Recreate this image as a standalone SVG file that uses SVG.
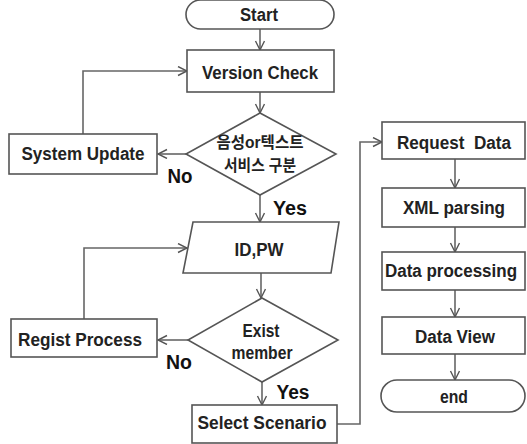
<svg xmlns="http://www.w3.org/2000/svg" width="527" height="444" viewBox="0 0 527 444">
<defs>
<marker id="arr" markerWidth="12" markerHeight="12" refX="10" refY="5" orient="auto" markerUnits="userSpaceOnUse">
<path d="M1,0.5 L10,5 L1,9.5" fill="none" stroke="#555" stroke-width="1.4"/>
</marker>
</defs>
<style>
.shape{fill:#fff;stroke:#555;stroke-width:1.6}
.conn{fill:none;stroke:#666;stroke-width:1.6;marker-end:url(#arr)}
text{font-family:"Liberation Sans","Noto Sans CJK KR",sans-serif;font-weight:bold;fill:#222;font-size:17.5px;text-anchor:middle;white-space:pre}
.ko{font-size:16px}
.lbl{font-size:20px;fill:#111}
</style>
<rect width="527" height="444" fill="#fff"/>
<g id="connectors">
<path class="conn" d="M260,29 L260,50"/>
<path class="conn" d="M260,92 L260,113"/>
<path class="conn" d="M186,154 L158,154"/>
<path class="conn" d="M83,134 L83,71 L187,71"/>
<path class="conn" d="M260,195 L260,222"/>
<path class="conn" d="M261,273 L261,298"/>
<path class="conn" d="M188,340 L158,340"/>
<path class="conn" d="M84,319 L84,248 L187,248"/>
<path class="conn" d="M262,382 L262,405"/>
<path class="conn" d="M337,424 L360,424 L360,142 L382,142"/>
<path class="conn" d="M455,159 L455,188"/>
<path class="conn" d="M455,227 L455,252"/>
<path class="conn" d="M455,290 L455,317"/>
<path class="conn" d="M455,354 L455,380"/>
</g>
<g id="start">
<rect class="shape" x="186" y="0" width="148" height="29" rx="14.5"/>
<text x="259" y="21" textLength="38" lengthAdjust="spacingAndGlyphs">Start</text>
</g>
<g id="version-check">
<rect class="shape" x="187" y="50" width="147" height="42"/>
<text x="260" y="79" textLength="116" lengthAdjust="spacingAndGlyphs">Version Check</text>
</g>
<g id="service-decision">
<polygon class="shape" points="260,113 336,154 260,195 186,154"/>
<text class="ko" x="260" y="148" textLength="87" lengthAdjust="spacingAndGlyphs">음성or텍스트</text>
<text class="ko" x="260" y="171" textLength="72" lengthAdjust="spacingAndGlyphs">서비스 구분</text>
</g>
<g id="system-update">
<rect class="shape" x="9" y="134" width="148" height="40"/>
<text x="83" y="160" textLength="123" lengthAdjust="spacingAndGlyphs">System Update</text>
</g>
<g id="id-pw">
<polygon class="shape" points="193,222 339,222 331,273 183,273"/>
<text x="259" y="256" textLength="49" lengthAdjust="spacingAndGlyphs">ID,PW</text>
</g>
<g id="exist-member">
<polygon class="shape" points="262,298 338,340 262,382 188,340"/>
<text x="261" y="337" textLength="37" lengthAdjust="spacingAndGlyphs">Exist</text>
<text x="262" y="359" textLength="61" lengthAdjust="spacingAndGlyphs">member</text>
</g>
<g id="regist-process">
<rect class="shape" x="11" y="319" width="146" height="38"/>
<text x="80" y="346" textLength="124" lengthAdjust="spacingAndGlyphs">Regist Process</text>
</g>
<g id="select-scenario">
<rect class="shape" x="192" y="405" width="145" height="38"/>
<text x="262" y="429" textLength="129" lengthAdjust="spacingAndGlyphs">Select Scenario</text>
</g>
<g id="request-data">
<rect class="shape" x="382" y="122" width="143" height="37"/>
<text x="454" y="149" textLength="114" lengthAdjust="spacingAndGlyphs">Request  Data</text>
</g>
<g id="xml-parsing">
<rect class="shape" x="382" y="188" width="143" height="39"/>
<text x="454" y="214" textLength="102" lengthAdjust="spacingAndGlyphs">XML parsing</text>
</g>
<g id="data-processing">
<rect class="shape" x="382" y="252" width="143" height="38"/>
<text x="451" y="277" textLength="132" lengthAdjust="spacingAndGlyphs">Data processing</text>
</g>
<g id="data-view">
<rect class="shape" x="382" y="317" width="143" height="37"/>
<text x="455" y="343" textLength="80" lengthAdjust="spacingAndGlyphs">Data View</text>
</g>
<g id="end">
<rect class="shape" x="381" y="380" width="144" height="32" rx="16"/>
<text x="454" y="403" textLength="28" lengthAdjust="spacingAndGlyphs">end</text>
</g>
<g id="labels">
<text class="lbl" x="180" y="183" textLength="25" lengthAdjust="spacingAndGlyphs">No</text>
<text class="lbl" x="290" y="215" textLength="34" lengthAdjust="spacingAndGlyphs">Yes</text>
<text class="lbl" x="179" y="369" textLength="26" lengthAdjust="spacingAndGlyphs">No</text>
<text class="lbl" x="293" y="399" textLength="33" lengthAdjust="spacingAndGlyphs">Yes</text>
</g>
</svg>
